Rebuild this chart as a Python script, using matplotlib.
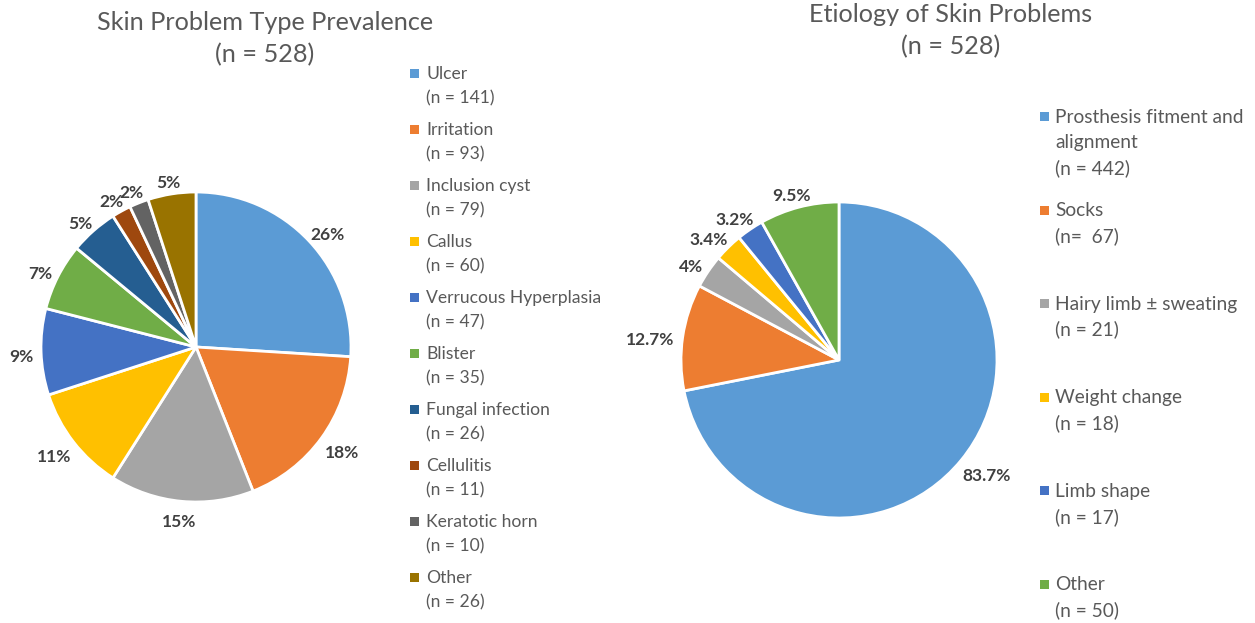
import matplotlib
matplotlib.use("Agg")
import numpy as np
import matplotlib.pyplot as plt
from matplotlib.patches import Rectangle

# ---- data ----
type_names = ["Ulcer", "Irritation", "Inclusion cyst", "Callus", "Verrucous Hyperplasia",
              "Blister", "Fungal infection", "Cellulitis", "Keratotic horn", "Other"]
type_counts = [141, 93, 79, 60, 47, 35, 26, 11, 10, 26]
type_pct = [26, 18, 15, 11, 9, 7, 5, 2, 2, 5]

cause_names = ["Prosthesis fitment and\nalignment", "Socks", "Hairy limb \u00b1 sweating",
               "Weight change", "Limb shape", "Other"]
cause_counts = [442, 67, 21, 18, 17, 50]
cause_count_text = ["(n = 442)", "(n=  67)", "(n = 21)", "(n = 18)", "(n = 17)", "(n = 50)"]
total_n = 528

type_colors = ["#5B9BD5", "#ED7D31", "#A5A5A5", "#FFC000", "#4472C4",
               "#70AD47", "#255E91", "#9E480E", "#636363", "#997300"]
cause_colors = ["#5B9BD5", "#ED7D31", "#A5A5A5", "#FFC000", "#4472C4", "#70AD47"]

W, H = 1255, 623
FONT = "Lato"
TXT = "#595959"
LBL = "#404040"

fig = plt.figure(figsize=(W / 100, H / 100), dpi=100)
fig.patch.set_facecolor("white")
renderer = fig.canvas.get_renderer()


def px_axes(cx, cy, r):
    return fig.add_axes([(cx - r) / W, (H - cy - r) / H, 2 * r / W, 2 * r / H])


def fmt_pct(v):
    s = f"{v:.1f}".rstrip("0").rstrip(".")
    return s + "%"


def draw_pie(ax, radius_px, values, labels, colors, gap, drop=5):
    wedges, texts = ax.pie(values, labels=labels, colors=colors, startangle=90,
                           counterclock=False, labeldistance=1.1,
                           wedgeprops=dict(edgecolor="white", linewidth=2),
                           textprops=dict(fontsize=12.5, fontweight="bold",
                                          color=LBL, family=FONT))
    ax.set_xlim(-1, 1)
    ax.set_ylim(-1, 1)
    ax.set_aspect("equal")
    ax.axis("off")
    # place each label just outside the rim, with its box touching the gap
    for w, t in zip(wedges, texts):
        t.set_ha("center")
        t.set_va("center")
        t.set_clip_on(False)
        bb = t.get_window_extent(renderer)
        hw, hh = bb.width / 2, bb.height / 2
        a = np.deg2rad((w.theta1 + w.theta2) / 2)
        c, s = np.cos(a), np.sin(a)
        dx = c * (radius_px + gap) + hw * c
        dy = s * (radius_px + gap) + hh * s - drop
        t.set_position((dx / radius_px, dy / radius_px))


# left pie: skin problem types
R1 = 155
ax1 = px_axes(196, 347, R1)
draw_pie(ax1, R1, type_pct, [f"{p}%" for p in type_pct], type_colors, gap=8)

# right pie: etiology
R2 = 158
ax2 = px_axes(839, 360, R2)
draw_pie(ax2, R2, cause_counts, [fmt_pct(c / total_n * 100) for c in cause_counts],
         cause_colors, gap=9)

# titles
for x, y, s in [(265, 22, "Skin Problem Type Prevalence"), (265, 55, "(n = 528)"),
                (951, 14, "Etiology of Skin Problems"), (951, 47, "(n = 528)")]:
    fig.text(x / W, 1 - y / H, s, ha="center", va="center", fontsize=18.2,
             color=TXT, family=FONT)


def legend_entry(x_sq, x_txt, y, lines, color, lh, fs):
    fig.patches.append(Rectangle(((x_sq - 4) / W, 1 - (y + 4) / H), 9 / W, 9 / H,
                                 transform=fig.transFigure, facecolor=color,
                                 edgecolor="none"))
    for i, line in enumerate(lines):
        fig.text(x_txt / W, 1 - (y + i * lh) / H, line, ha="left", va="center",
                 fontsize=fs, color=TXT, family=FONT)


# left legend
for i, (name, n, c) in enumerate(zip(type_names, type_counts, type_colors)):
    legend_entry(414, 426, 74 + i * 56.0, [name, f"(n = {n})"], c, 24, 12.6)

# right legend
for i, (name, nt, c) in enumerate(zip(cause_names, cause_count_text, cause_colors)):
    legend_entry(1044, 1055, 117 + i * 93.6, name.split("\n") + [nt], c, 25.5, 13.8)

fig.savefig("out.png", dpi=100, facecolor="white")
